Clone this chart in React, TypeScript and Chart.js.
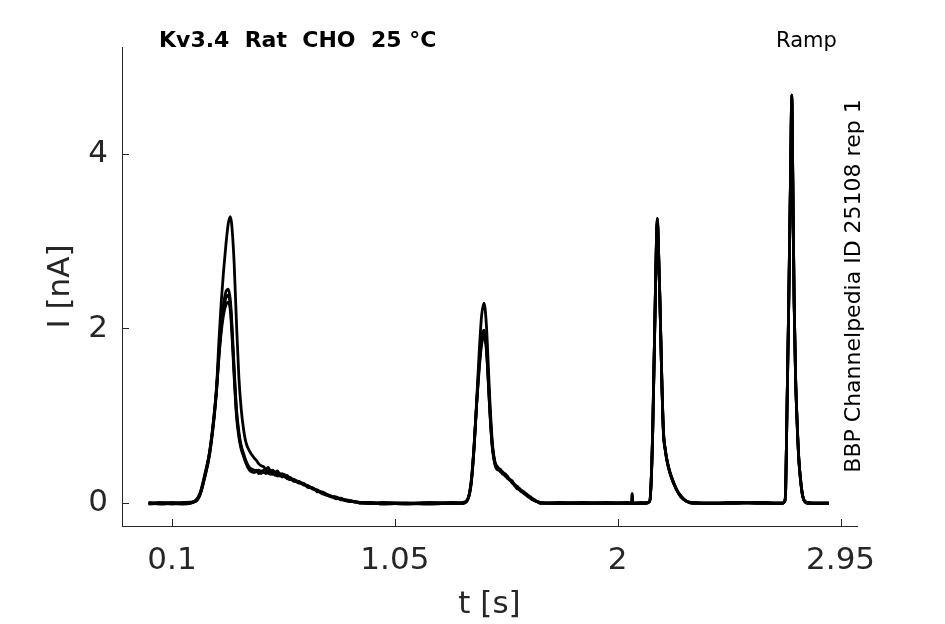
import React, { useEffect, useRef } from "react";
import { Chart, registerables } from "chart.js";

Chart.register(...registerables);

// ---- Data ----
const TITLE = "Kv3.4  Rat  CHO  25 °C";
const PROTOCOL = "Ramp";
const SIDE_NOTE = "BBP Channelpedia ID 25108 rep 1";
const X_LABEL = "t [s]";
const Y_LABEL = "I [nA]";
const X_TICKS = [0.1, 1.05, 2, 2.95];
const Y_TICKS = [0, 2, 4];
const X_RANGE = [-0.113, 3.02];
const Y_RANGE = [-0.26, 5.22];

// Segment 1: first ramp response (0 – 1.34 s)
const TIME_1 = [0, 0.05, 0.1, 0.15, 0.2, 0.22, 0.24, 0.26, 0.28, 0.29, 0.3, 0.31, 0.32, 0.33, 0.34, 0.349, 0.355, 0.365, 0.375, 0.385, 0.395, 0.405, 0.415, 0.43,
  0.45, 0.46, 0.47, 0.48, 0.49, 0.5, 0.51, 0.52, 0.53, 0.54, 0.55, 0.56, 0.57, 0.58, 0.59, 0.6, 0.62, 0.64, 0.66, 0.68, 0.7, 0.72, 0.74, 0.76, 0.78, 0.8, 0.82, 0.84, 0.86, 0.88, 0.9,
  0.95, 1.0, 1.1, 1.2, 1.3, 1.34];
const I_1A = [0.0, 0.0, -0.01, 0.0, 0.02, 0.1, 0.3, 0.56, 1.0, 1.32, 1.85, 2.3, 2.66, 2.96, 3.2, 3.28, 3.18, 2.75, 2.06, 1.45, 1.08, 0.85, 0.7, 0.6,
  0.52, 0.49, 0.45, 0.43, 0.42, 0.39, 0.41, 0.37, 0.38, 0.35, 0.37, 0.33, 0.34, 0.31, 0.32, 0.29, 0.27, 0.25, 0.22, 0.2, 0.17, 0.15, 0.12, 0.1, 0.08, 0.07, 0.05, 0.04, 0.03, 0.02, 0.01,
  0.0, 0.0, 0.0, 0.01, 0.0, 0.0];
const I_1B = [-0.01, 0.0, 0.01, 0.0, 0.03, 0.11, 0.32, 0.58, 1.02, 1.32, 1.72, 2.05, 2.28, 2.42, 2.45, 2.32, 2.08, 1.55, 1.08, 0.82, 0.66, 0.57, 0.49, 0.41,
  0.38, 0.36, 0.38, 0.35, 0.37, 0.34, 0.38, 0.35, 0.33, 0.36, 0.32, 0.34, 0.31, 0.32, 0.29, 0.3, 0.26, 0.24, 0.22, 0.19, 0.17, 0.14, 0.12, 0.09, 0.08, 0.06, 0.05, 0.03, 0.03, 0.01, 0.01,
  0.01, -0.01, 0.0, 0.0, 0.01, 0.0];
const I_1C = [0.01, -0.01, 0.0, 0.01, 0.02, 0.1, 0.3, 0.55, 0.98, 1.28, 1.68, 2.0, 2.22, 2.35, 2.38, 2.26, 2.02, 1.5, 1.04, 0.79, 0.64, 0.55, 0.47, 0.39,
  0.36, 0.38, 0.34, 0.37, 0.35, 0.39, 0.34, 0.36, 0.35, 0.32, 0.35, 0.31, 0.33, 0.3, 0.31, 0.27, 0.27, 0.23, 0.23, 0.18, 0.18, 0.13, 0.13, 0.1, 0.07, 0.07, 0.04, 0.04, 0.02, 0.02, 0.0,
  0.0, 0.0, -0.01, 0.0, 0.0, 0.01];
const I_1D = [0.0, 0.01, 0.0, -0.01, 0.03, 0.12, 0.33, 0.58, 1.02, 1.3, 1.66, 1.96, 2.16, 2.27, 2.3, 2.2, 1.96, 1.45, 1.0, 0.76, 0.62, 0.54, 0.46, 0.38,
  0.35, 0.37, 0.36, 0.34, 0.38, 0.35, 0.36, 0.33, 0.36, 0.34, 0.31, 0.33, 0.3, 0.33, 0.28, 0.29, 0.25, 0.25, 0.21, 0.2, 0.16, 0.15, 0.11, 0.1, 0.08, 0.05, 0.06, 0.03, 0.02, 0.02, 0.01,
  0.0, 0.01, 0.0, -0.01, 0.0, 0.0];

// Segment 2: second ramp response (1.356 – 2.12 s)
const TIME_2 = [1.356, 1.368, 1.377, 1.388, 1.399, 1.41, 1.42, 1.43, 1.44, 1.448, 1.455, 1.465, 1.477,
  1.49, 1.5, 1.51, 1.52, 1.53, 1.54, 1.55, 1.56, 1.57, 1.585, 1.6, 1.615, 1.63, 1.645, 1.67,
  1.75, 1.85, 1.95, 2.04, 2.059, 2.06, 2.063, 2.064, 2.1, 2.12];
const I_2A = [0.02, 0.1, 0.27, 0.65, 1.18, 1.75, 2.15, 2.29, 2.05, 1.6, 1.18, 0.72, 0.46,
  0.4, 0.36, 0.35, 0.31, 0.3, 0.27, 0.25, 0.21, 0.19, 0.16, 0.12, 0.1, 0.06, 0.04, 0.0,
  0.0, 0.01, 0.0, 0.0, 0.0, 0.11, 0.11, 0.0, 0.0, 0.0];
const I_2B = [0.02, 0.11, 0.28, 0.66, 1.16, 1.62, 1.9, 1.98, 1.82, 1.45, 1.08, 0.68, 0.45,
  0.38, 0.38, 0.33, 0.33, 0.28, 0.28, 0.23, 0.22, 0.18, 0.15, 0.13, 0.09, 0.07, 0.03, 0.01,
  0.0, 0.0, 0.01, 0.0, 0.0, 0.0, 0.0, 0.0, 0.01, 0.0];
const I_2C = [0.03, 0.1, 0.26, 0.64, 1.14, 1.58, 1.86, 1.95, 1.8, 1.42, 1.06, 0.66, 0.47,
  0.41, 0.37, 0.36, 0.32, 0.31, 0.26, 0.26, 0.2, 0.2, 0.14, 0.12, 0.08, 0.06, 0.04, 0.0,
  0.01, 0.0, 0.0, 0.01, 0.0, 0.0, 0.0, 0.0, 0.0, 0.01];
const I_2D = [0.02, 0.12, 0.29, 0.67, 1.15, 1.55, 1.82, 1.91, 1.76, 1.4, 1.04, 0.65, 0.44,
  0.39, 0.39, 0.34, 0.34, 0.29, 0.27, 0.24, 0.21, 0.17, 0.15, 0.11, 0.09, 0.05, 0.03, 0.01,
  0.0, 0.0, 0.0, 0.0, 0.01, 0.0, 0.0, 0.0, 0.0, 0.0];

// Segment 3: third and fourth ramp responses (2.136 – 2.9 s)
const TIME_3 = [2.136, 2.142, 2.149, 2.155, 2.16, 2.165, 2.169, 2.174, 2.18, 2.188, 2.195, 2.202, 2.209, 2.22, 2.235, 2.252, 2.27, 2.295, 2.32, 2.4, 2.5, 2.6, 2.7, 2.712, 2.716, 2.721, 2.729, 2.737, 2.742, 2.746, 2.752, 2.758, 2.764, 2.772, 2.78, 2.787, 2.795, 2.81, 2.85, 2.9];
const I_3A = [0.02, 0.2, 0.8, 1.6, 2.32, 3.0, 3.26, 2.9, 2.32, 1.4, 0.8, 0.62, 0.5, 0.37, 0.25, 0.15, 0.07, 0.02, 0.0, 0.0, 0.01, 0.0, 0.0, 0.02, 0.15, 0.97, 2.3, 3.8, 4.67, 3.8, 2.3, 1.45, 0.97, 0.5, 0.25, 0.1, 0.03, 0.0, 0.0, 0.0];
const I_3B = [0.02, 0.22, 0.82, 1.62, 2.3, 2.96, 3.22, 2.88, 2.3, 1.42, 0.82, 0.63, 0.51, 0.38, 0.26, 0.15, 0.08, 0.02, 0.01, 0.0, 0.0, 0.01, 0.0, 0.03, 0.16, 0.98, 2.28, 3.76, 4.63, 3.78, 2.32, 1.47, 0.98, 0.51, 0.26, 0.11, 0.03, 0.01, 0.0, 0.0];

const TRACES = [
  [I_1A, I_2A, I_3A],
  [I_1B, I_2B, I_3B],
  [I_1C, I_2C, I_3A],
  [I_1D, I_2D, I_3B],
];
const TIMES = [TIME_1, TIME_2, TIME_3];

const FONT = "'DejaVu Sans', sans-serif";
const AXIS_COLOR = "#262626";

function buildPoints(segs: number[][]) {
  const pts: { x: number; y: number }[] = [];
  segs.forEach((vals, si) => {
    vals.forEach((v, i) => pts.push({ x: TIMES[si][i], y: v }));
  });
  return pts;
}

const decorPlugin = {
  id: "decor",
  afterDraw(chart: any) {
    const { ctx, chartArea, scales } = chart;
    ctx.save();
    // inward tick marks
    ctx.strokeStyle = AXIS_COLOR;
    ctx.lineWidth = 1;
    ctx.beginPath();
    X_TICKS.forEach((v) => {
      const px = Math.round(scales.x.getPixelForValue(v)) + 0.5;
      ctx.moveTo(px, chartArea.bottom);
      ctx.lineTo(px, chartArea.bottom - 7);
    });
    Y_TICKS.forEach((v) => {
      const py = Math.round(scales.y.getPixelForValue(v)) + 0.5;
      ctx.moveTo(chartArea.left, py);
      ctx.lineTo(chartArea.left + 7, py);
    });
    ctx.stroke();

    // header texts
    ctx.fillStyle = "#000";
    ctx.textBaseline = "alphabetic";
    ctx.textAlign = "left";
    ctx.font = `bold 22px ${FONT}`;
    ctx.fillText(TITLE, 159, 46.5);
    ctx.font = `21px ${FONT}`;
    ctx.fillText(PROTOCOL, 776, 46.5);

    // rotated side note
    ctx.translate(860, 286);
    ctx.rotate(-Math.PI / 2);
    ctx.textAlign = "center";
    ctx.font = `22px ${FONT}`;
    ctx.fillText(SIDE_NOTE, 0, 0);
    ctx.restore();
  },
};

export default function App() {
  const ref = useRef<HTMLCanvasElement | null>(null);

  useEffect(() => {
    if (!ref.current) return;
    const chart = new Chart(ref.current, {
      type: "line",
      data: {
        datasets: TRACES.map((segs) => ({
          data: buildPoints(segs),
          borderColor: "#000",
          borderWidth: 2.8,
          pointRadius: 0,
          cubicInterpolationMode: "monotone" as const,
          fill: false,
        })),
      },
      options: {
        animation: false,
        responsive: false,
        maintainAspectRatio: false,
        layout: { padding: { left: 0, top: 47, right: 88, bottom: 0 } },
        plugins: {
          legend: { display: false },
          tooltip: { enabled: false },
          title: { display: false },
        },
        scales: {
          x: {
            type: "linear",
            min: X_RANGE[0],
            max: X_RANGE[1],
            afterBuildTicks: (s: any) => {
              s.ticks = X_TICKS.map((v) => ({ value: v }));
            },
            afterFit: (s: any) => {
              s.height = 98;
            },
            grid: { display: false, drawTicks: false },
            border: { display: true, color: AXIS_COLOR, width: 1 },
            ticks: {
              color: AXIS_COLOR,
              font: { family: FONT, size: 31 },
              padding: 16,
              maxRotation: 0,
              autoSkip: false,
              callback: (v: any) => String(v),
            },
            title: {
              display: true,
              text: X_LABEL,
              color: AXIS_COLOR,
              font: { family: FONT, size: 31 },
              padding: { top: 0, bottom: 0 },
            },
          },
          y: {
            type: "linear",
            min: Y_RANGE[0],
            max: Y_RANGE[1],
            afterBuildTicks: (s: any) => {
              s.ticks = Y_TICKS.map((v) => ({ value: v }));
            },
            afterFit: (s: any) => {
              s.width = 122;
            },
            grid: { display: false, drawTicks: false },
            border: { display: true, color: AXIS_COLOR, width: 1 },
            ticks: {
              color: AXIS_COLOR,
              font: { family: FONT, size: 31 },
              padding: 14,
              autoSkip: false,
              callback: (v: any) => String(v),
            },
            title: {
              display: true,
              text: Y_LABEL,
              color: AXIS_COLOR,
              font: { family: FONT, size: 31 },
              padding: { top: 42, bottom: 0 },
            },
          },
        },
      },
      plugins: [decorPlugin],
    });
    return () => chart.destroy();
  }, []);

  return (
    <div style={{ position: "fixed", left: 0, top: 0, width: 945, height: 624, background: "#fff" }}>
      <canvas ref={ref} width={945} height={624} style={{ display: "block" }} />
    </div>
  );
}
